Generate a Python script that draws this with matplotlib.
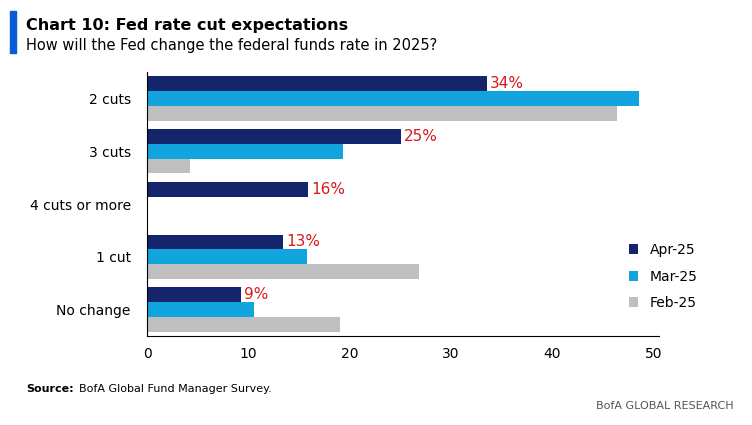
import matplotlib.pyplot as plt
import numpy as np

categories = ["2 cuts", "3 cuts", "4 cuts or more", "1 cut", "No change"]
apr = [33.5, 25.0, 15.9, 13.4, 9.2]
mar = [48.5, 19.3, 0, 15.8, 10.5]
feb = [46.4, 4.2, 0, 26.8, 19.0]
labels = ["34%", "25%", "16%", "13%", "9%"]
xticks = [0, 10, 20, 30, 40, 50]

fig = plt.figure(figsize=(7.52, 4.25), dpi=100)
ax = fig.add_axes([0.196, 0.21, 0.68, 0.62])
y = np.arange(len(categories))
h = 0.28
ax.barh(y - h, apr, h, color="#15256b", label="Apr-25")
ax.barh(y, mar, h, color="#12a4dd", label="Mar-25")
ax.barh(y + h, feb, h, color="#bfbfbf", label="Feb-25")
for yi, v, t in zip(y, apr, labels):
    ax.text(v + 0.3, yi - h, t, color="#d7191c", fontsize=11, va="center", ha="left")
ax.set_yticks(y)
ax.set_yticklabels(categories, fontsize=10)
ax.set_ylim(len(categories) - 0.5, -0.5)
ax.set_xlim(0, 50.5)
ax.set_xticks(xticks)
ax.tick_params(axis="x", labelsize=10, length=0, pad=8)
ax.tick_params(axis="y", length=0, pad=12)
for s in ["top", "right"]:
    ax.spines[s].set_visible(False)
ax.legend(loc="lower right", bbox_to_anchor=(1.1, 0.05), frameon=False, fontsize=10,
          handlelength=0.7, handleheight=0.7, labelspacing=0.9)
fig.patches.append(plt.Rectangle((0.013, 0.875), 0.008, 0.1, transform=fig.transFigure, color="#0a5bd6"))
fig.text(0.035, 0.94, "Chart 10: Fed rate cut expectations", fontsize=11.5, fontweight="bold", va="center")
fig.text(0.035, 0.893, "How will the Fed change the federal funds rate in 2025?", fontsize=10.5, va="center")
fig.text(0.035, 0.085, "Source:", fontsize=8, fontweight="bold", va="center")
fig.text(0.105, 0.085, "BofA Global Fund Manager Survey.", fontsize=8, va="center")
fig.text(0.975, 0.045, "BofA GLOBAL RESEARCH", fontsize=8, va="center", ha="right", color="#555555")
fig.savefig("out.png")
